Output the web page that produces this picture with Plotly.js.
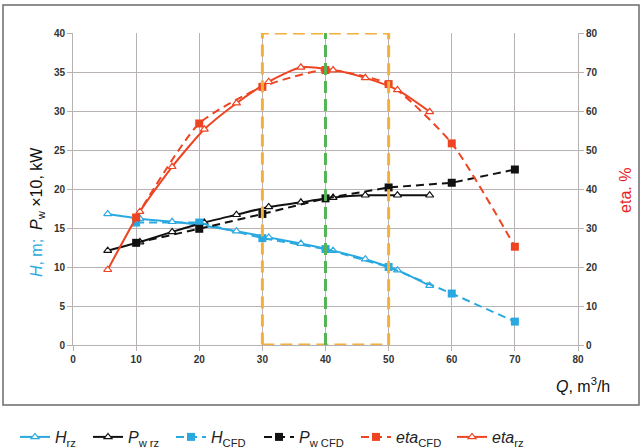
<!DOCTYPE html>
<html><head><meta charset="utf-8">
<script src="https://cdn.plot.ly/plotly-3.0.1.min.js"></script>
<style>body{margin:0;background:#fff}#c{width:640px;height:448px}</style>
</head><body><div id="c"></div>
<script>
// Calculated (rz) series
var qRz   = [5.5, 10.6, 15.7, 20.8, 25.9, 31.0, 36.1, 41.2, 46.3, 51.4, 56.5];
var hRz   = [16.8, 16.2, 15.8, 15.3, 14.6, 13.8, 13.0, 12.1, 11.0, 9.6, 7.6];
var pRz   = [12.1, 13.2, 14.5, 15.7, 16.7, 17.7, 18.3, 18.9, 19.2, 19.2, 19.2];
var etaRz = [19.3, 34.2, 45.7, 55.3, 62.0, 67.5, 71.2, 70.5, 68.5, 65.4, 59.8];
// CFD series
var qCfd   = [10, 20, 30, 40, 50, 60, 70];
var hCfd   = [15.7, 15.7, 13.7, 12.3, 10.0, 6.6, 3.0];
var pCfd   = [13.1, 14.9, 16.8, 18.8, 20.2, 20.8, 22.5];
var etaCfd = [32.7, 56.8, 66.2, 70.5, 66.9, 51.7, 25.2];
// Axis ticks
var xTicks = [0, 10, 20, 30, 40, 50, 60, 70, 80];
var yTicks = [0, 5, 10, 15, 20, 25, 30, 35, 40];
var y2Ticks = [0, 10, 20, 30, 40, 50, 60, 70, 80];
// Marked region
var regionQ = [30, 50];
var bestQ = 40;

var BLUE = '#2aa9e0', RED = '#ee4422', BLACK = '#111111';
var ORANGE = '#f4b03a', GREEN = '#55b454';
var tri = function(c){return {symbol:'triangle-up', size:7, color:'#ffffff', line:{color:c, width:1.2}};};
var sq = function(c){return {symbol:'square', size:8, color:c};};

var traces = [
  {x:qRz, y:hRz, name:'<i>H</i><sub>rz</sub>', legend:'legend', mode:'lines+markers', line:{color:BLUE, width:2, shape:'spline', smoothing:0.6}, marker:tri(BLUE)},
  {x:qRz, y:pRz, name:'<i>P</i><sub>w rz</sub>', legend:'legend2', mode:'lines+markers', line:{color:BLACK, width:2, shape:'spline', smoothing:0.6}, marker:tri(BLACK)},
  {x:qCfd, y:hCfd, name:'<i>H</i><sub>CFD</sub>', legend:'legend3', mode:'lines+markers', line:{color:BLUE, width:2, dash:'8px,5px'}, marker:sq(BLUE)},
  {x:qCfd, y:pCfd, name:'<i>P</i><sub>w CFD</sub>', legend:'legend4', mode:'lines+markers', line:{color:BLACK, width:2, dash:'8px,5px'}, marker:sq(BLACK)},
  {x:qCfd, y:etaCfd, name:'<i>eta</i><sub>CFD</sub>', legend:'legend5', yaxis:'y2', mode:'lines+markers', line:{color:RED, width:2, dash:'8px,5px', shape:'spline', smoothing:0.6}, marker:sq(RED)},
  {x:qRz, y:etaRz, name:'<i>eta</i><sub>rz</sub>', legend:'legend6', yaxis:'y2', mode:'lines+markers', line:{color:RED, width:2, shape:'spline', smoothing:0.6}, marker:tri(RED)}
];

var FONT = 'Liberation Sans, Arial, sans-serif';
var legStarts = [12, 85, 168, 256, 353, 449];
function leg(px){
  return {orientation:'h', xref:'container', yref:'container', x:(px+3)/640, xanchor:'left', y:(448-437)/448, yanchor:'middle',
          font:{family:FONT, size:16, color:'#222'}, itemwidth:30, bgcolor:'rgba(0,0,0,0)', borderwidth:0};
}

var tickFont = {family:FONT, size:10, color:'#333333', weight:'bold'};
var layout = {
  width:640, height:448,
  margin:{l:73, r:62, t:33, b:103, autoexpand:false},
  paper_bgcolor:'#ffffff', plot_bgcolor:'#ffffff',
  showlegend:true,
  legend:leg(legStarts[0]), legend2:leg(legStarts[1]), legend3:leg(legStarts[2]),
  legend4:leg(legStarts[3]), legend5:leg(legStarts[4]), legend6:leg(legStarts[5]),
  xaxis:{range:[0,80], tickvals:xTicks, ticktext:xTicks.map(String), showgrid:true, gridcolor:'#b9b2b2', gridwidth:1,
         showline:true, linecolor:'#b9b2b2', ticks:'outside', ticklen:5, tickcolor:'#b9b2b2', tickfont:tickFont, zeroline:false, fixedrange:true},
  yaxis:{range:[0,40], tickvals:yTicks, ticktext:yTicks.map(String), showgrid:true, gridcolor:'#b9b2b2', gridwidth:1,
         showline:true, linecolor:'#b9b2b2', ticks:'outside', ticklen:5, tickcolor:'#b9b2b2', tickfont:tickFont, zeroline:false},
  yaxis2:{range:[0,80], tickvals:y2Ticks, ticktext:y2Ticks.map(String), overlaying:'y', side:'right', showgrid:false,
          showline:true, linecolor:'#b9b2b2', ticks:'outside', ticklen:5, tickcolor:'#b9b2b2', tickfont:tickFont, zeroline:false},
  shapes:[
    {type:'rect', xref:'paper', yref:'paper', x0:-0.1386, x1:1.1208, y0:-0.1923, y1:1.0897, line:{color:'#6b6b6b', width:1.5}, layer:'below'},
    {type:'rect', xref:'x', yref:'y', x0:regionQ[0], x1:regionQ[1], y0:0, y1:40, line:{color:ORANGE, width:3, dash:'12px,6px'}},
    {type:'line', xref:'x', yref:'y', x0:bestQ, x1:bestQ, y0:0, y1:40, line:{color:GREEN, width:3, dash:'12px,6px'}}
  ],
  annotations:[
    {xref:'paper', yref:'paper', x:-0.0713, y:0.426, textangle:-90, showarrow:false, xanchor:'center', yanchor:'middle',
     text:'<span style="color:'+BLUE+'"><i>H</i>, m;</span>  <i>P</i><sub>w</sub> ×10, kW', font:{family:FONT, size:16, color:'#111'}},
    {xref:'paper', yref:'paper', x:1.095, y:0.497, textangle:-90, showarrow:false, xanchor:'center', yanchor:'middle',
     text:'eta. %', font:{family:FONT, size:16, color:'#e8231f'}},
    {xref:'paper', yref:'paper', x:1.0673, y:-0.128, showarrow:false, xanchor:'right', yanchor:'middle',
     text:'<i>Q</i>, m<sup>3</sup>/h', font:{family:FONT, size:16, color:'#111'}}
  ]
};
Plotly.newPlot('c', traces, layout, {displayModeBar:false, staticPlot:true});
</script></body></html>
